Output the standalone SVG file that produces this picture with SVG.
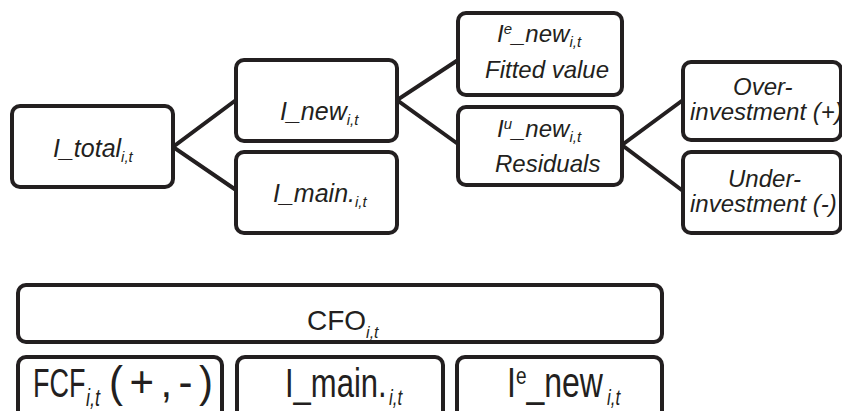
<svg xmlns="http://www.w3.org/2000/svg" width="842" height="411" viewBox="0 0 842 411">
<style>
.box{fill:#fff;stroke:#231f20;stroke-width:4}
.ln{stroke:#231f20;stroke-width:4;fill:none}
.t{font-family:"Liberation Sans",Arial,sans-serif;font-size:24px;font-style:italic;fill:#231f20}
.s{font-size:15px}
.b{font-family:"Liberation Sans",Arial,sans-serif;font-size:32px;fill:#231f20}
.bs{font-family:"Liberation Sans",Arial,sans-serif;font-size:17px;font-style:italic;fill:#231f20}
</style>
<rect width="842" height="411" fill="#fff"/>
<g id="connectors">
<polyline class="ln" points="236,100 173,147 236,190"/>
<polyline class="ln" points="458,60 397,100 458,144"/>
<polyline class="ln" points="683,100 622,145 683,191"/>
</g>
<g id="n_total">
<rect class="box" x="12" y="106" width="161" height="81" rx="8"/>
<text class="t" x="53" y="157" style="font-size:25px">I_total<tspan class="s" dy="5">i,t</tspan></text>
</g>
<g id="n_new">
<rect class="box" x="236" y="60" width="161" height="81" rx="8"/>
<text class="t" x="280" y="120" style="font-size:25px">I_new<tspan class="s" dy="5">i,t</tspan></text>
</g>
<g id="n_main">
<rect class="box" x="236" y="152" width="161" height="81" rx="8"/>
<text class="t" x="273" y="202" style="font-size:25px">I_main.<tspan class="s" dy="5">i,t</tspan></text>
</g>
<g id="n_enew">
<rect class="box" x="458" y="13" width="164" height="82" rx="8"/>
<text class="t" x="497" y="42">I<tspan class="s" dy="-8">e</tspan><tspan dy="8">_new</tspan><tspan class="s" dy="5">i,t</tspan></text>
<text class="t" x="485" y="78">Fitted value</text>
</g>
<g id="n_unew">
<rect class="box" x="458" y="107" width="164" height="78" rx="8"/>
<text class="t" x="497" y="137">I<tspan class="s" dy="-8">u</tspan><tspan dy="8">_new</tspan><tspan class="s" dy="5">i,t</tspan></text>
<text class="t" x="495" y="172">Residuals</text>
</g>
<g id="n_over">
<rect class="box" x="683" y="62" width="158" height="78" rx="8"/>
<text class="t" x="733" y="95">Over-</text>
<text class="t" x="690" y="120">investment (+)</text>
</g>
<g id="n_under">
<rect class="box" x="683" y="152" width="158" height="81" rx="8"/>
<text class="t" x="728" y="187">Under-</text>
<text class="t" x="690" y="212">investment (-)</text>
</g>
<g id="n_cfo">
<rect class="box" x="18" y="285" width="644" height="57" rx="8"/>
<text class="b" x="307" y="330" style="font-size:28px">CFO<tspan class="bs" dy="8" style="font-size:16px">i,t</tspan></text>
</g>
<g id="n_fcf">
<rect class="box" x="18" y="357" width="204" height="70" rx="8"/>
<text class="b" transform="translate(33,397) scale(1,1.5)" x="0" y="0" style="font-size:27px">FCF</text>
<text class="bs" transform="translate(86,406) scale(1,1.3)" x="0" y="0" style="font-size:18px">i,t</text>
<text class="b" transform="translate(109,397) scale(1,1.05)" x="0" y="0" style="font-size:42px" textLength="104" lengthAdjust="spacing">(+,-)</text>
</g>
<g id="n_main2">
<rect class="box" x="237" y="357" width="206" height="70" rx="8"/>
<text class="b" transform="translate(285,397) scale(1,1.3)" x="0" y="0" style="font-size:31px">I_main.</text>
<text class="bs" transform="translate(389,405) scale(1,1.3)" x="0" y="0">i,t</text>
</g>
<g id="n_enew2">
<rect class="box" x="457" y="357" width="205" height="70" rx="8"/>
<text class="b" transform="translate(507,397) scale(1,1.3)" x="0" y="0">I<tspan style="font-size:19px" dy="-10">e</tspan><tspan dy="10">_new</tspan></text>
<text class="bs" transform="translate(607,405) scale(1,1.3)" x="0" y="0">i,t</text>
</g>
</svg>
